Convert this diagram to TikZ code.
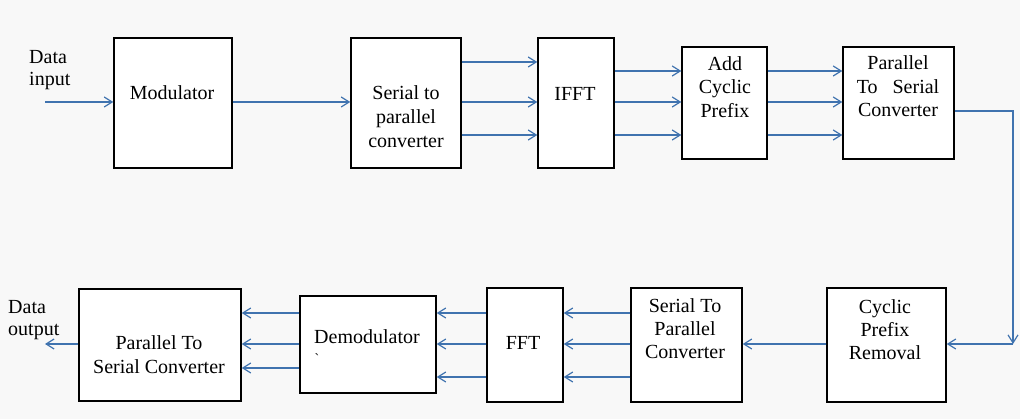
\documentclass[tikz,border=0pt]{standalone}
\usepackage{fontspec}
\setmainfont{Liberation Serif}
\usetikzlibrary{arrows.meta,fit}
\definecolor{ablue}{RGB}{64,115,175}
\definecolor{bgc}{RGB}{248,248,248}
\begin{document}
\begin{tikzpicture}[x=1pt,y=-1pt,
  box/.style={draw=black, line width=1.4pt, fill=white, inner sep=0pt, rectangle},
  lbl/.style={font=\fontsize{20}{24}\selectfont, align=center, inner sep=0pt},
  conn/.style={draw=ablue, line width=1.2pt, -{Straight Barb[length=8pt,width=10pt,line width=1.2pt]}},
  tconn/.style={conn, line width=1.7pt}]
\fill[bgc] (0,0) rectangle (1020,419);
\useasboundingbox (0,0) rectangle (1020,419);
% boxes
\node[box, fit={(114,38)(232,168)}] (mod) {};
\node[box, fit={(351,38)(461,168)}] (ser) {};
\node[box, fit={(538,38)(614,168)}] (ifft) {};
\node[box, fit={(682,47)(767,159)}] (acp) {};
\node[box, fit={(843,47)(954,159)}] (ps1) {};
\node[box, fit={(79,289)(241,401)}] (ps2) {};
\node[box, fit={(300,296)(436,393)}] (dem) {};
\node[box, fit={(487,288)(563,402)}] (fft) {};
\node[box, fit={(631,288)(742,402)}] (sp2) {};
\node[box, fit={(827,288)(946,402)}] (cpr) {};
% texts
\node[lbl] (tmod) at (172,93) {Modulator};
\node[lbl] (tser) at (406,116.5) {Serial to\\parallel\\converter};
\node[lbl] (tifft) at (575,94) {IFFT};
\node[lbl, font=\fontsize{20}{23.5}\selectfont] (tacp) at (725,87) {Add\\Cyclic\\Prefix};
\node[lbl, font=\fontsize{20}{23.5}\selectfont] (tps1) at (898,86.5) {Parallel\\To\hspace{15pt}Serial\\Converter};
\node[lbl] (tps2) at (159,354.5) {Parallel To\\Serial Converter};
\node[lbl] (tdem) at (367,336.5) {Demodulator};
\node[inner sep=0pt, font=\fontsize{14}{14}\selectfont] (ttick) at (317,359) {\textasciigrave};
\node[lbl] (tfft) at (523,343) {FFT};
\node[lbl, font=\fontsize{20}{23}\selectfont] (tsp2) at (685,329) {Serial To\\Parallel\\Converter};
\node[lbl, font=\fontsize{20}{23}\selectfont] (tcpr) at (885,329.5) {Cyclic\\Prefix\\Removal};
\node[lbl, align=left, anchor=west, font=\fontsize{20}{22}\selectfont] (tdin) at (29,70) {Data\\input};
\node[lbl, align=left, anchor=west, font=\fontsize{20}{22}\selectfont] (tdout) at (8,320.5) {Data\\output};
% row coordinates
\coordinate (din) at (45,102);
\coordinate (dout) at (45,344);
\coordinate (ya) at (0,62);
\coordinate (yb) at (0,102);
\coordinate (yc) at (0,135);
\coordinate (yd) at (0,71);
\coordinate (ye) at (0,111);
\coordinate (yf) at (0,313);
\coordinate (yg) at (0,344);
\coordinate (yh) at (0,377);
\coordinate (yi) at (0,368);
\coordinate (cor) at (1013,344);
% connectors
\draw[conn] (din) -- (mod.west |- din);
\draw[conn] (mod.east |- yb) -- (ser.west |- yb);
\draw[tconn] (ser.east |- ya) -- (ifft.west |- ya);
\draw[conn] (ser.east |- yb) -- (ifft.west |- yb);
\draw[conn] (ser.east |- yc) -- (ifft.west |- yc);
\foreach \r in {yd,yb,yc} \draw[conn] (ifft.east |- \r) -- (acp.west |- \r);
\foreach \r in {yd,yb,yc} \draw[conn] (acp.east |- \r) -- (ps1.west |- \r);
\draw[tconn] (ps1.east |- ye) -| (cor);
\draw[tconn] (cor) -- (cpr.east |- cor);
\draw[tconn] (cpr.west |- yg) -- (sp2.east |- yg);
\foreach \r in {yf,yg,yh} \draw[tconn] (sp2.west |- \r) -- (fft.east |- \r);
\foreach \r in {yf,yg,yh} \draw[tconn] (fft.west |- \r) -- (dem.east |- \r);
\draw[tconn] (dem.west |- yf) -- (ps2.east |- yf);
\draw[tconn] (dem.west |- yg) -- (ps2.east |- yg);
\draw[conn] (dem.west |- yi) -- (ps2.east |- yi);
\draw[conn] (ps2.west |- yg) -- (dout);
\end{tikzpicture}
\end{document}
